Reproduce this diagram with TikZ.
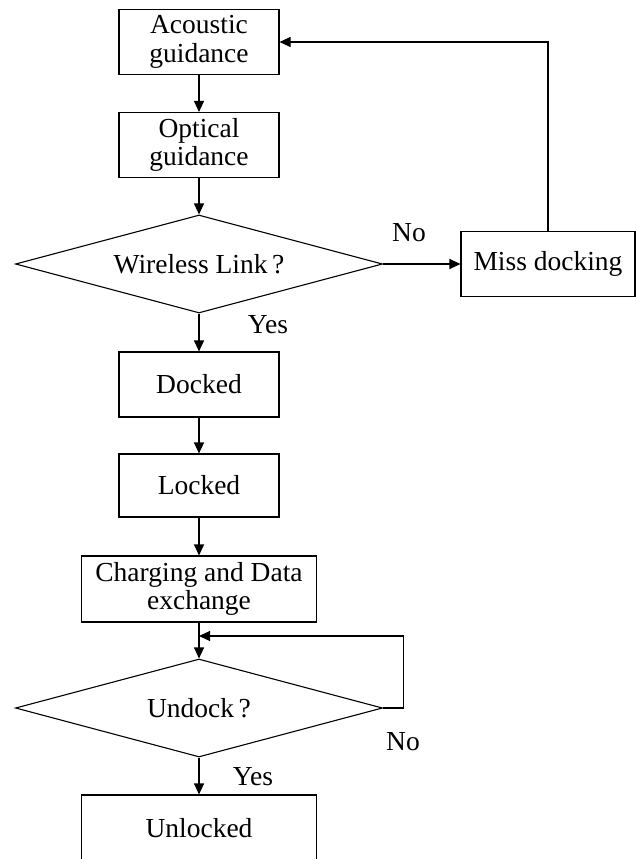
\documentclass[tikz,border=0pt]{standalone}
\usepackage{fontspec}
\setmainfont{Liberation Serif}
\usetikzlibrary{shapes.geometric,arrows.meta}
\begin{document}
\begin{tikzpicture}[x=1pt,y=-1pt,
  every node/.style={font=\fontsize{27.5}{28.5}\selectfont},
  box/.style={draw,line width=1.1pt,rectangle,align=center,inner sep=0pt,
              minimum width=#1,minimum height=65pt},
  box/.default=160pt,
  decision/.style={draw,line width=1.1pt,diamond,inner sep=0pt,aspect=3.745,
              minimum width=367pt,minimum height=98pt},
  lbl/.style={inner sep=0pt},
  flow/.style={line width=1.1pt,-{Triangle[length=11pt,width=10pt]}}]
\useasboundingbox (0,0) rectangle (636,859);
\begin{scope}
\clip (0,0) rectangle (636,859);
% main column
\node[box] (ac) at (199,42) {Acoustic\\guidance};
\node[box] (op) at (199,145) {Optical\\guidance};
\node[decision] (wl) at (199,264) {Wireless Link\,?};
\node[box] (md) at (548,264) [minimum width=174pt] {Miss docking};
\node[box] (dk) at (199,384.5) {Docked};
\node[box] (lk) at (199,485.5) [minimum height=63pt] {Locked};
\node[box=235pt] (ch) at (199,589) [minimum height=66pt] {Charging and Data\\exchange};
\node[decision] (ud) at (199,708) {Undock\,?};
\node[box=235pt] (ul) at (199,828) [minimum height=66pt] {Unlocked};
\end{scope}
% branch labels
\node[lbl] (no1) at (409,233) {No};
\node[lbl] (yes1) at (268,325) {Yes};
\node[lbl] (no2) at (403,742) {No};
\node[lbl] (yes2) at (253,777) {Yes};
% connectors
\coordinate (join) at (199,636);
\draw[flow] (ac.south) -- (op.north);
\draw[flow] (op.south) -- (wl.north);
\draw[flow] (wl.east) -- (md.west);
\draw[flow] (md.north) |- (ac.east);
\draw[flow] (wl.south) -- (dk.north);
\draw[flow] (dk.south) -- (lk.north);
\draw[flow] (lk.south) -- (ch.north);
\draw[flow] (ch.south) -- (ud.north);
\draw[flow] (ud.east) -- ++(20,0) |- (join);
\draw[flow] (ud.south) -- (ul.north);
\end{tikzpicture}
\end{document}
